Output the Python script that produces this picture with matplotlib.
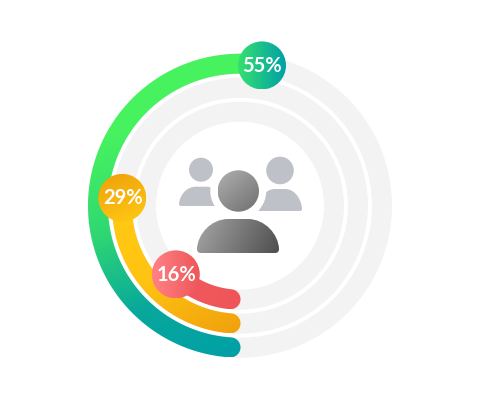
import numpy as np
import matplotlib.pyplot as plt
from matplotlib.colors import LinearSegmentedColormap
from matplotlib.patches import Circle, PathPatch, Wedge
from matplotlib.path import Path

# Chart data
labels = ["55%", "29%", "16%"]
sweep_deg = [188.9, 93.8, 43.1]    # clockwise from the bottom of the ring
ring_outer = [152, 128, 104]
ring_width = 20

arc_colors = [["#46F65E", "#46F25F", "#30D872", "#08A89C", "#009FA8"],
              ["#FFCB14", "#FFC312", "#F0A00C"],
              ["#F25A5E", "#EF5558"]]
arc_angles = [-70, -60, -20]
badge_colors = [["#35E070", "#00A0A6"], ["#EFA00B", "#FFCA14"], ["#FF8285", "#EE5659"]]
badge_angles = [0, -70, 0]

CX, CY = 240.0, 205.7   # ring centre in image pixels
TRACK = "#F3F3F3"
CAP = 9.5               # cap centre distance from the bottom line, px


def px(x, y):
    # image pixels to data coords (y up, origin in ring centre)
    return x - CX, CY - y


def gradient_fill(ax, path, colors, angle, zorder):
    # linear gradient clipped to a path, angle in degrees (0 = left to right)
    cmap = LinearSegmentedColormap.from_list("g", colors)
    x0, y0 = path.vertices.min(axis=0)
    x1, y1 = path.vertices.max(axis=0)
    xx, yy = np.meshgrid(np.linspace(0, 1, 256), np.linspace(1, 0, 256))
    a = np.deg2rad(angle)
    w, h = x1 - x0, y1 - y0
    t = xx * w * np.cos(a) + yy * h * np.sin(a)
    t = (t - t.min()) / (t.max() - t.min())
    im = ax.imshow(t, cmap=cmap, extent=(x0, x1, y0, y1), zorder=zorder,
                   interpolation="bilinear", aspect="auto")
    im.set_clip_path(PathPatch(path, transform=ax.transData))


def pos(r, a):
    # a is clockwise from the bottom of the ring, in degrees
    t = np.deg2rad(270.0 - a)
    return r * np.cos(t), r * np.sin(t)


def arc_path(r_out, width, sweep):
    r_mid = r_out - width / 2.0
    start = np.rad2deg(CAP / r_mid)
    a = np.linspace(start, sweep, 300)
    outer = np.column_stack(pos(r_out, a))
    inner = np.column_stack(pos(r_out - width, a[::-1]))
    # round cap at the bottom end, the far end is under the badge
    c = pos(r_mid, start)
    t0 = np.deg2rad(270.0 - start)
    caps = np.linspace(t0 + np.pi, t0, 30)
    cap = np.column_stack([c[0] + width / 2.0 * np.cos(caps), c[1] + width / 2.0 * np.sin(caps)])
    verts = np.vstack([outer, inner, cap])
    return Path(np.vstack([verts, verts[:1]]), closed=True)


def body(x0, x1, y0, y1, corner):
    # dome with flat bottom, image pixel coords
    l, t = px(x0, y0)
    r, b = px(x1, y1)
    h = t - b
    m = (r - l) * 0.38
    verts = [(l + corner, b), (l, b), (l, b + corner),
             (l + 0.5, b + h * 0.55), (l + m * 0.45, t), (l + m, t),
             (r - m, t),
             (r - m * 0.45, t), (r - 0.5, b + h * 0.55), (r, b + corner),
             (r, b), (r - corner, b), (l + corner, b)]
    codes = [Path.MOVETO, Path.CURVE3, Path.CURVE3,
             Path.CURVE4, Path.CURVE4, Path.CURVE4,
             Path.LINETO,
             Path.CURVE4, Path.CURVE4, Path.CURVE4,
             Path.CURVE3, Path.CURVE3, Path.CLOSEPOLY]
    return Path(verts, codes)


fig = plt.figure(figsize=(4.8, 4.0), dpi=100)
ax = fig.add_axes([0, 0, 1, 1])

# grey tracks
for r in ring_outer:
    ax.add_patch(Wedge((0, 0), r, 0, 360, width=ring_width, fc=TRACK, ec="none", zorder=1))

# coloured arcs and badges
for i in range(len(labels)):
    gradient_fill(ax, arc_path(ring_outer[i], ring_width, sweep_deg[i]), arc_colors[i], arc_angles[i], 2 + i)

for i in range(len(labels)):
    r_mid = ring_outer[i] - ring_width / 2.0
    bx, by = pos(r_mid, sweep_deg[i])
    gradient_fill(ax, Path.circle((bx, by), 24), badge_colors[i], badge_angles[i], 6 + i)
    ax.text(bx + 0.5, by - 0.5, labels[i], color="white", fontsize=14.5, fontweight="bold",
            family="Lato", ha="center", va="center", zorder=10)

# people icon: side figures
SIDE = "#BEC1C7"
hx, hy = px(201, 169.7)
ax.add_patch(Circle((hx, hy), 12, fc=SIDE, ec="none", zorder=3))
hx, hy = px(280, 170.5)
ax.add_patch(Circle((hx, hy), 13.8, fc=SIDE, ec="none", zorder=3))

ax.add_patch(PathPatch(body(179, 223, 186.7, 206, 2), fc=SIDE, ec="none", zorder=3))
ax.add_patch(PathPatch(body(258, 302, 189, 211, 2), fc=SIDE, ec="none", zorder=3))

# main figure with white halo
hx, hy = px(238.3, 191)
ax.add_patch(Circle((hx, hy), 28, fc="white", ec="none", zorder=4))
gradient_fill(ax, Path.circle((hx, hy), 20.7), ["#B0B0B0", "#6E6E6E"], -50, 5)
gradient_fill(ax, body(197, 279, 219, 253, 4), ["#A6A6A6", "#4E4E4E"], -25, 5)

ax.set_xlim(px(0, 0)[0], px(480, 0)[0])
ax.set_ylim(px(0, 400)[1], px(0, 0)[1])
ax.set_aspect("equal")
ax.axis("off")
fig.savefig("out.png", dpi=100, facecolor="white")
